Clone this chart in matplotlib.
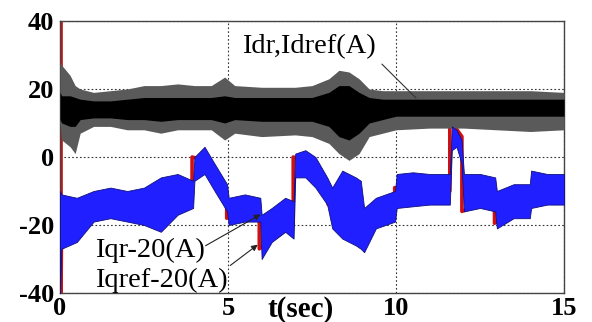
import numpy as np
import matplotlib.pyplot as plt

plt.rcParams['font.family'] = ['Liberation Serif', 'DejaVu Serif']
plt.rcParams['axes.unicode_minus'] = False

# Idr, Idref (A): envelope of the noisy trace
t_d = [0, 0.05, 0.3, 0.45, 0.6, 1, 1.5, 2, 2.5, 3, 3.5, 4, 4.5, 4.9, 5.2,
       6, 7, 7.5, 8, 8.3, 8.6, 8.9, 9.2, 9.6, 10, 11, 12, 13, 14, 15]
idr_hi = [28, 27, 24, 21, 20, 19, 19.5, 20, 21, 21, 21.5, 21, 21, 23.5, 21,
          20.5, 20.5, 21, 23, 25.5, 25, 23, 20, 19.5, 19.5, 19.5, 19.5, 19.5, 19.5, 19]
idr_lo = [10, 5, 3, 1, 7, 9, 9, 8, 8, 7, 8, 8, 8, 5, 7,
          6, 6.5, 6, 4, 1, -1, 1, 6, 7, 8, 8.5, 8.5, 8, 7.5, 8]
idr_core_hi = [19, 18, 18, 17.5, 17, 16.5, 16.5, 17, 17.5, 17.5, 17.5, 17.5, 17.5, 18, 17.5,
               17.5, 17.5, 17.5, 19, 21, 21, 19, 17.5, 17, 17, 17, 17, 17, 17, 17]
idr_core_lo = [11, 10, 9, 9, 11, 11.5, 11.5, 11, 11, 10.5, 11, 11, 11, 10, 11,
               10.5, 10.5, 10.5, 9, 6, 5, 7, 10, 11, 12, 12, 12, 12, 12, 12]

# Iqr-20 (A): envelope of the noisy trace
t_q = [0, 0.04, 0.5, 1, 1.5, 2, 2.5, 3, 3.5, 3.96,
       4.0, 4.3, 4.6, 4.97, 5.02, 5.5, 5.96,
       6.0, 6.3, 6.7, 6.95, 7.0, 7.3, 7.6, 7.95, 8.1, 8.4, 8.8, 8.95,
       9.05, 9.4, 9.97, 10.02, 10.5, 11, 11.6,
       11.66, 11.8, 11.95, 12.02, 12.5, 12.95, 13.0, 13.5, 13.98,
       14.02, 14.5, 15]
iqr_hi = [-10, -11, -12, -10, -9, -10, -9, -6, -5, -7,
          0, 3, -2, -8, -12, -11, -12,
          -17, -15, -12, -13, 1, 2, 0, -6, -9, -4, -6, -7,
          -15, -12, -10, -5, -4.5, -5, -5,
          9, 8, 5, -5, -5, -6, -10, -8, -8,
          -4, -5, -5]
iqr_lo = [-40, -27, -25, -19, -18, -19, -20, -22, -17, -15,
          -7, -5, -10, -16, -20, -19, -19,
          -30, -25, -22, -24, -6, -6, -9, -14, -21, -24, -26, -27,
          -28, -21, -19, -15, -14.5, -14, -14,
          2, 3, -2, -16, -15, -16, -21, -18, -18,
          -15, -14, -14]

# Iqref-20 (A): stepped reference
t_ref = [0.03, 0.03, 0.05, 3.93, 3.93, 4.3, 4.96, 4.96, 5.93, 5.93, 6.94, 6.94,
         7.3, 7.93, 7.98, 9.0, 9.96, 9.96, 11.6, 11.6, 11.96, 11.96,
         12.93, 12.93, 13.96, 13.96, 15]
iqref = [40, -40, -15, -13, 0, -1, -12, -18, -16, -27, -20, 0,
         -1, -7, -14, -16, -16, -9, -10, 11, 6, -16,
         -12, -19.5, -13, -10, -10]

fig = plt.figure(figsize=(5.92, 3.22), dpi=100)
ax = fig.add_axes([0.1014, 0.0901, 0.8514, 0.8447])

ax.plot(t_ref, iqref, color='#d01010', lw=2.6, zorder=2)
ax.fill_between(t_d, idr_lo, idr_hi, color='#5a5a5a', lw=0, zorder=3)
ax.fill_between(t_d, idr_core_lo, idr_core_hi, color='black', lw=0, zorder=4)
ax.fill_between(t_q, iqr_lo, iqr_hi, facecolor='#1f1fff', edgecolor='#101080',
                lw=0.6, zorder=3)

ax.set_xlim(0, 15)
ax.set_ylim(-40, 40)
ax.set_xticks([0, 5, 10, 15])
ax.set_yticks([-40, -20, 0, 20, 40])
ax.grid(True, color='#333333', linestyle=(0, (1.5, 2)), lw=0.8)
ax.tick_params(length=0, labelsize=19)
ax.tick_params(axis='y', pad=4)
ax.tick_params(axis='x', pad=3)
for lab in ax.get_xticklabels() + ax.get_yticklabels():
    lab.set_fontweight('bold')
for s in ax.spines.values():
    s.set_color('#444444')
    s.set_linewidth(1.0)

ax.text(0.478, -0.01, 't(sec)', transform=ax.transAxes, ha='center', va='top',
        fontsize=21, fontweight='bold')

ax.text(5.42, 30.6, 'Idr,Idref(A)', fontsize=20.5, va='baseline', zorder=6)
ax.annotate('', xy=(10.65, 16.8), xytext=(9.52, 27.9),
            arrowprops=dict(arrowstyle='-', color='#333333', lw=0.8), zorder=6)

ax.text(1.04, -29.4, 'Iqr-20(A)', fontsize=20.5, va='baseline', zorder=6)
ax.annotate('', xy=(6.04, -16.5), xytext=(4.26, -26.5),
            arrowprops=dict(arrowstyle='-|>', color='#222222', lw=0.8,
                            mutation_scale=9), zorder=6)
ax.text(1.04, -38.2, 'Iqref-20(A)', fontsize=20.5, va='baseline', zorder=6)
ax.annotate('', xy=(5.95, -25.3), xytext=(5.0, -32.4),
            arrowprops=dict(arrowstyle='-|>', color='#222222', lw=0.8,
                            mutation_scale=9), zorder=6)

fig.savefig('out.png', dpi=100)
